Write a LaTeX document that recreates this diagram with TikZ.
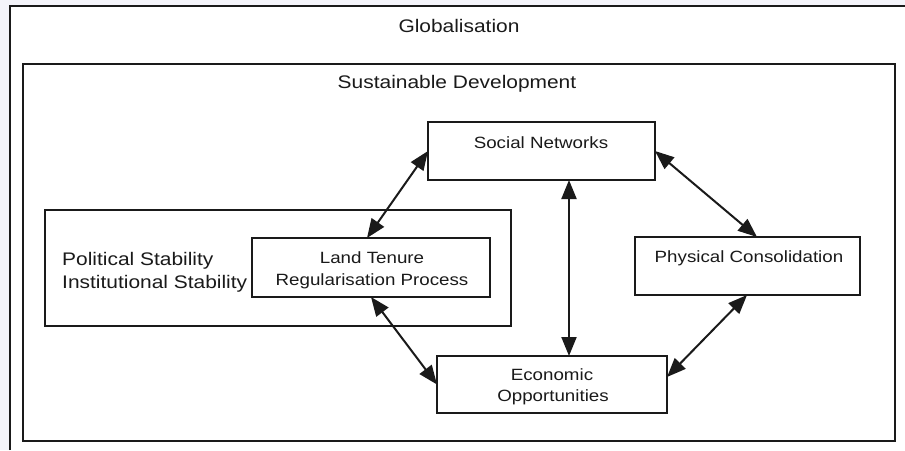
\documentclass[tikz,border=0pt]{standalone}
\usepackage{fontspec}
\setmainfont[FakeStretch=1.15]{Liberation Sans}
\usetikzlibrary{arrows.meta}
\definecolor{bgc}{HTML}{F4F4FA}
\definecolor{ink}{HTML}{1A1A1A}
\begin{document}
\begin{tikzpicture}[x=1pt,y=-1pt,
  frame/.style={draw=ink, line width=1.5pt},
  box/.style={draw=ink, line width=1.5pt, inner sep=0pt, outer sep=0pt},
  ntext/.style={font=\fontsize{16.3}{22}\selectfont, inner sep=0pt, anchor=base, text=ink},
  ttext/.style={font=\fontsize{18.2}{24}\selectfont, inner sep=0pt, anchor=base, text=ink},
  conn/.style={draw=ink, line width=2pt,
    {Triangle[length=19pt,width=15pt]}-{Triangle[length=19pt,width=15pt]}}
]
\useasboundingbox (0,0) rectangle (905,450);
\fill[bgc] (0,0) rectangle (905,450);
\fill[white] (10,6) rectangle (905,450);
\draw[frame] (10,450) -- (10,6) -- (905,6);
\node[ttext] (glob) at (459,32) {Globalisation};

% Sustainable development frame
\node[box, minimum width=872pt, minimum height=377pt] (sd) at (459,252.5) {};
\node[ttext] (sdt) at (457,88) {Sustainable Development};

% Stability box
\node[box, minimum width=466pt, minimum height=116pt] (stab) at (278,268) {};
\node[ttext, anchor=base west] (pol) at (62,265) {Political Stability};
\node[ttext, anchor=base west] (inst) at (62,288) {Institutional Stability};

% Boxes
\node[box, fill=white, minimum width=227pt, minimum height=58pt] (sn) at (541.5,151) {};
\node[ntext] (snt) at (541,148) {Social Networks};

\node[box, fill=white, minimum width=225pt, minimum height=58pt] (phys) at (747.5,266) {};
\node[ntext] (physt) at (749,262) {Physical Consolidation};

\node[box, fill=white, minimum width=230pt, minimum height=57pt] (econ) at (552,384.5) {};
\node[ntext] (econt1) at (552,380) {Economic};
\node[ntext] (econt2) at (553,401) {Opportunities};

\node[box, fill=white, minimum width=238pt, minimum height=59pt] (lt) at (371,267.5) {};
\node[ntext] (ltt1) at (372,263) {Land Tenure};
\node[ntext] (ltt2) at (372,285) {Regularisation Process};

% Connectors
\draw[conn] (sn.west) -- ([xshift=-4pt]lt.north);
\draw[conn] (lt.south) -- (econ.west);
\draw[conn] ([xshift=27.5pt]sn.south) -- ([xshift=17pt]econ.north);
\draw[conn] (sn.east) -- ([xshift=9.5pt]phys.north);
\draw[conn] ([xshift=-0.5pt]phys.south) -- ([yshift=7.5pt]econ.east);
\end{tikzpicture}
\end{document}
